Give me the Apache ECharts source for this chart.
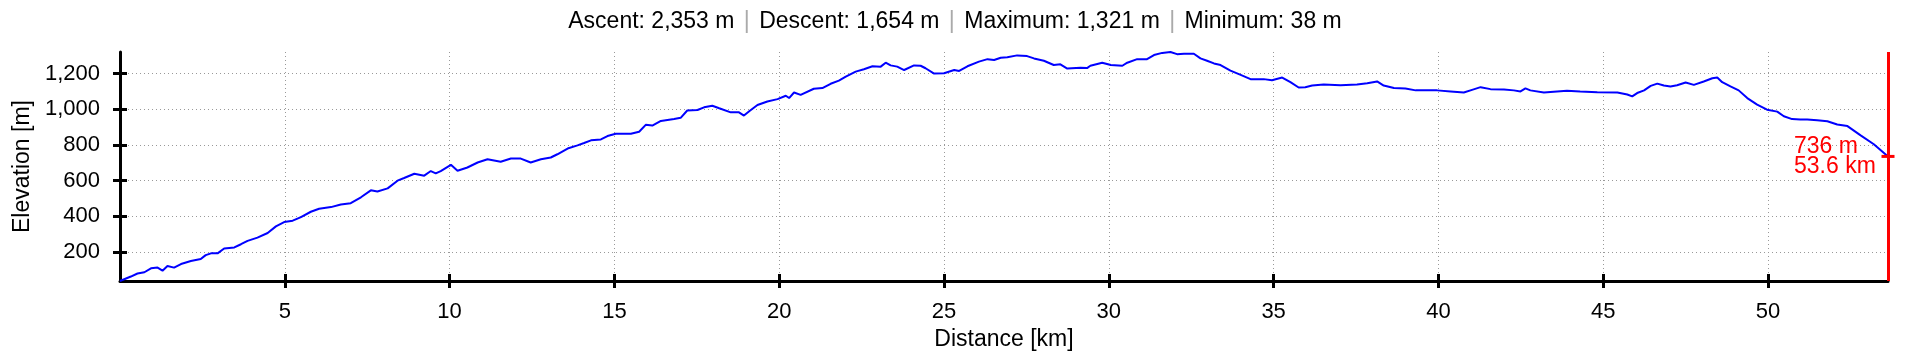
<!DOCTYPE html>
<html>
<head>
<meta charset="utf-8">
<style>
  html, body { margin: 0; padding: 0; background: #fff; }
  #chart { width: 1910px; height: 361px; }
</style>
<script src="https://cdn.jsdelivr.net/npm/echarts@6/dist/echarts.min.js"></script>
</head>
<body>
<div id="chart"></div>
<script>
// ---- data ----
const distanceKm = [
  0, 0.33, 0.53, 0.74, 0.94, 1.14, 1.29, 1.44, 1.64, 1.85, 2.15, 2.45, 2.6, 2.76, 2.96,
  3.16, 3.47, 3.67, 3.87, 4.17, 4.48, 4.73, 4.98, 5.24, 5.49, 5.79, 6.04, 6.4, 6.7, 7.0,
  7.31, 7.61, 7.81, 8.12, 8.42, 8.62, 8.93, 9.23, 9.43, 9.58, 9.73, 10.04, 10.24, 10.54,
  10.85, 11.15, 11.55, 11.86, 12.16, 12.46, 12.77, 13.07, 13.27, 13.58, 13.88, 14.08,
  14.29, 14.59, 14.79, 15.04, 15.5, 15.75, 15.95, 16.15, 16.41, 16.81, 17.01, 17.21,
  17.52, 17.72, 17.97, 18.18, 18.53, 18.78, 18.93, 19.09, 19.34, 19.64, 19.95, 20.2,
  20.3, 20.45, 20.65, 21.05, 21.31, 21.56, 21.81, 22.02, 22.32, 22.57, 22.83, 23.08,
  23.23, 23.38, 23.58, 23.79, 24.09, 24.29, 24.44, 24.7, 25.0, 25.31, 25.46, 25.71,
  26.06, 26.32, 26.52, 26.72, 26.92, 27.22, 27.52, 27.73, 28.03, 28.33, 28.53, 28.74,
  29.14, 29.34, 29.44, 29.8, 30.06, 30.41, 30.56, 30.86, 31.16, 31.37, 31.62, 31.87,
  32.07, 32.28, 32.58, 32.78, 32.98, 33.19, 33.39, 33.69, 34.0, 34.3, 34.7, 34.95,
  35.26, 35.51, 35.76, 35.96, 36.17, 36.52, 37.03, 37.53, 37.84, 38.14, 38.34, 38.65,
  39.0, 39.31, 39.66, 39.96, 40.37, 40.77, 41.02, 41.28, 41.58, 41.99, 42.29, 42.49,
  42.64, 42.79, 43.2, 43.6, 43.9, 44.3, 44.82, 45.43, 45.73, 45.88, 46.03, 46.24,
  46.44, 46.64, 46.84, 47.04, 47.24, 47.5, 47.75, 48.05, 48.31, 48.46, 48.61, 48.86,
  49.11, 49.37, 49.67, 49.97, 50.28, 50.48, 50.73, 50.98, 51.19, 51.49, 51.8, 52.1,
  52.41, 52.81, 53.21, 53.64
];
const elevationM = [
  38, 63, 80, 87, 109, 113, 96, 122, 113, 133, 150, 161, 183, 193, 193,
  220, 226, 244, 263, 281, 307, 344, 368, 376, 396, 426, 443, 452, 467, 474,
  507, 546, 539, 557, 600, 615, 639, 628, 654, 641, 654, 689, 656, 674,
  702, 720, 706, 724, 724, 702, 720, 730, 748, 780, 798, 811,
  826, 831, 850, 863, 863, 874, 913, 909, 935, 946, 952, 993,
  996, 1011, 1020, 1006, 983, 983, 965, 989, 1024, 1044, 1057, 1076,
  1063, 1094, 1081, 1115, 1119, 1143, 1161, 1183, 1211, 1224, 1241, 1239,
  1261, 1246, 1239, 1220, 1246, 1244, 1230, 1200, 1202, 1220, 1215, 1241,
  1267, 1281, 1276, 1289, 1291, 1302, 1298, 1285, 1272, 1248, 1252, 1228,
  1233, 1231, 1244, 1261, 1248, 1244, 1261, 1281, 1281, 1304, 1316, 1321,
  1309, 1311, 1311, 1285, 1272, 1257, 1248, 1217, 1193, 1169, 1169, 1163,
  1178, 1152, 1122, 1124, 1133, 1139, 1135, 1139, 1146, 1156, 1133, 1119,
  1117, 1106, 1106, 1106, 1100, 1094, 1109, 1124, 1113, 1111, 1106, 1100,
  1117, 1106, 1094, 1100, 1104, 1100, 1096, 1094, 1083, 1072, 1091, 1106,
  1131, 1144, 1133, 1128, 1135, 1150, 1137, 1156, 1174, 1178, 1152, 1128,
  1106, 1063, 1026, 998, 987, 961, 945, 943, 943, 939, 933, 915,
  906, 854, 804, 736
];
const xTickValues = [5, 10, 15, 20, 25, 30, 35, 40, 45, 50];
const yTickValues = [200, 400, 600, 800, 1000, 1200];
const stats = { ascent: '2,353', descent: '1,654', maximum: '1,321', minimum: '38' };
const xMin = 0, xMax = 53.64;
const yMin = 38, yMax = 1321;

// ---- chart ----
const FONT = "'Liberation Sans', Arial, sans-serif";
const points = distanceKm.map((d, i) => [d, elevationM[i]]);
const last = points[points.length - 1];

const chart = echarts.init(document.getElementById('chart'), null, { renderer: 'canvas' });

const gridLine = { show: true, lineStyle: { color: '#999', width: 1, type: [1, 3] } };
const tickStyle = { color: '#000', width: 3 };

chart.setOption({
  animation: false,
  backgroundColor: '#fff',
  title: {
    text: 'Ascent: ' + stats.ascent + ' m {s||} Descent: ' + stats.descent + ' m {s||} Maximum: ' +
          stats.maximum + ' m {s||} Minimum: ' + stats.minimum + ' m',
    left: 'center',
    top: 5,
    textStyle: {
      fontFamily: FONT, fontSize: 23, fontWeight: 'normal', color: '#000',
      rich: { s: { color: '#aaa', fontFamily: FONT, fontSize: 23, padding: [0, 3] } }
    }
  },
  grid: { left: 120, right: 22, top: 52, bottom: 80, containLabel: false },
  xAxis: [
    {
      type: 'value', min: xMin, max: xMax,
      position: 'bottom',
      name: 'Distance [km]', nameLocation: 'middle', nameGap: 41,
      nameTextStyle: { fontFamily: FONT, fontSize: 23, color: '#000' },
      axisLine: { show: true, onZero: false, lineStyle: { color: '#000', width: 3 } },
      axisTick: { show: true, length: 7, inside: false, customValues: xTickValues, lineStyle: tickStyle },
      axisLabel: { show: true, customValues: xTickValues, margin: 20, fontFamily: FONT, fontSize: 22, color: '#000' },
      splitLine: gridLine
    },
    {
      type: 'value', min: xMin, max: xMax, position: 'bottom',
      axisLine: { show: false },
      axisTick: { show: true, length: 7, inside: true, customValues: xTickValues, lineStyle: tickStyle },
      axisLabel: { show: false },
      splitLine: { show: false }
    }
  ],
  yAxis: [
    {
      type: 'value', min: yMin, max: yMax,
      position: 'left',
      name: 'Elevation [m]', nameLocation: 'middle', nameGap: 86, nameRotate: 90,
      nameTextStyle: { fontFamily: FONT, fontSize: 23, color: '#000' },
      axisLine: { show: true, onZero: false, lineStyle: { color: '#000', width: 3 } },
      axisTick: { show: true, length: 7, inside: false, customValues: yTickValues, lineStyle: tickStyle },
      axisLabel: {
        show: true, customValues: yTickValues, margin: 20, fontFamily: FONT, fontSize: 22, color: '#000',
        formatter: v => v.toLocaleString('en-US')
      },
      splitLine: gridLine
    },
    {
      type: 'value', min: yMin, max: yMax, position: 'left',
      axisLine: { show: false },
      axisTick: { show: true, length: 7, inside: true, customValues: yTickValues, lineStyle: tickStyle },
      axisLabel: { show: false },
      splitLine: { show: false }
    }
  ],
  series: [
    {
      type: 'line',
      xAxisIndex: 0, yAxisIndex: 0,
      data: points,
      showSymbol: false,
      symbol: 'none',
      lineStyle: { color: '#0000ff', width: 2 },
      z: 3,
      markLine: {
        silent: true,
        symbol: 'none',
        label: { show: false },
        lineStyle: { color: '#ff0000', width: 3, type: 'solid' },
        data: [{ xAxis: last[0] }]
      },
      markPoint: {
        silent: true,
        data: [{
          coord: last,
          symbol: 'rect',
          symbolSize: [13, 3],
          itemStyle: { color: '#ff0000' },
          label: {
            show: true,
            position: 'inside',
            align: 'left',
            verticalAlign: 'middle',
            offset: [-94, 0],
            formatter: Math.round(last[1]) + ' m\n' + last[0].toFixed(1) + ' km',
            fontFamily: FONT, fontSize: 23, lineHeight: 20, color: '#ff0000'
          }
        }]
      }
    }
  ]
});
</script>
</body>
</html>
